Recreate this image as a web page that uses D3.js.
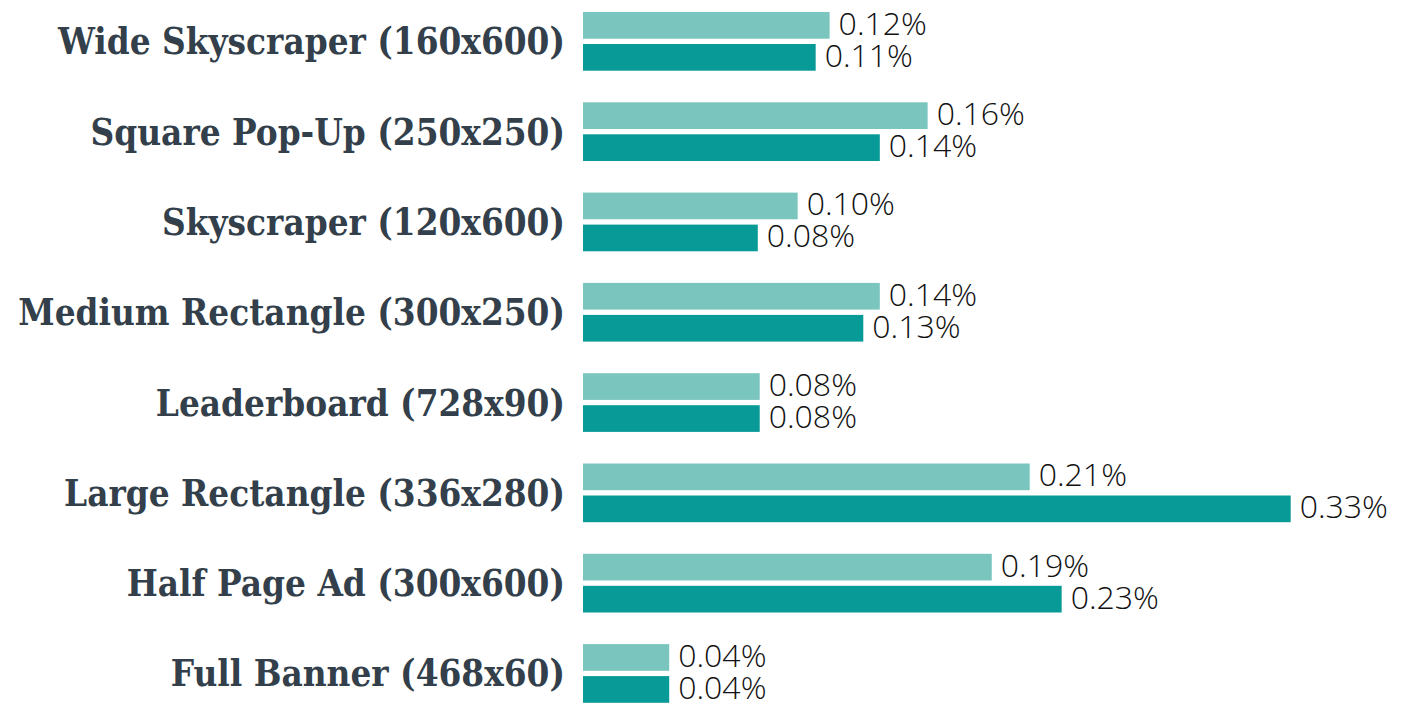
<!DOCTYPE html>
<html>
<head>
<meta charset="utf-8">
<script src="https://cdn.jsdelivr.net/npm/d3@7"></script>
<style>
  html, body { margin: 0; padding: 0; background: #fff; }
</style>
</head>
<body>
<div id="chart"></div>
<script>
// ad sizes, top to bottom
const categories = [
  "Wide Skyscraper (160x600)",
  "Square Pop-Up (250x250)",
  "Skyscraper (120x600)",
  "Medium Rectangle (300x250)",
  "Leaderboard (728x90)",
  "Large Rectangle (336x280)",
  "Half Page Ad (300x600)",
  "Full Banner (468x60)"
];

const seriesNames = ["light", "dark"];

// values in percent
const lightValues = [0.115, 0.1607, 0.1001, 0.1384, 0.0824, 0.2083, 0.1906, 0.0402];
const darkValues  = [0.1085, 0.1384, 0.0815, 0.1307, 0.0824, 0.33, 0.2232, 0.0402];

// labels shown next to the bars
const lightLabels = ["0.12%", "0.16%", "0.10%", "0.14%", "0.08%", "0.21%", "0.19%", "0.04%"];
const darkLabels  = ["0.11%", "0.14%", "0.08%", "0.13%", "0.08%", "0.33%", "0.23%", "0.04%"];

const colors = { light: "#7ac5be", dark: "#089a97" };

let width = 1405,
    height = 703;

let svg = d3.select("#chart")
  .append("svg")
  .attr("width", width)
  .attr("height", height);

let x = d3.scaleLinear()
  .domain([0, 0.33])
  .range([583, 1290.7]);

let y = d3.scaleBand()
  .domain(categories)
  .range([12, 702.8])
  .paddingInner(0.35)
  .paddingOuter(0);

let ySub = d3.scaleBand()
  .domain(seriesNames)
  .range([0, y.bandwidth()])
  .paddingInner(0.166);

let rows = categories.map((c, i) => ({
  cat: c,
  bars: [
    { key: "light", value: lightValues[i], label: lightLabels[i] },
    { key: "dark", value: darkValues[i], label: darkLabels[i] }
  ]
}));

let group = svg.append("g")
  .selectAll("g")
  .data(rows)
  .enter()
  .append("g")
  .attr("transform", d => `translate(0, ${y(d.cat)})`);

group.selectAll("rect")
  .data(d => d.bars)
  .enter()
  .append("rect")
  .attr("x", x(0))
  .attr("y", d => ySub(d.key))
  .attr("width", d => x(d.value) - x(0))
  .attr("height", ySub.bandwidth())
  .attr("fill", d => colors[d.key]);

group.selectAll("text.value")
  .data(d => d.bars)
  .enter()
  .append("text")
  .attr("class", "value")
  .attr("x", d => x(d.value) + 9)
  .attr("y", d => ySub(d.key) + ySub.bandwidth() / 2 + 9.5)
  .attr("font-family", "'Open Sans', sans-serif")
  .attr("font-weight", 300)
  .attr("font-size", 32)
  .attr("fill", "#111")
  .text(d => d.label);

// category names on the left
svg.append("g")
  .selectAll("text")
  .data(categories)
  .enter()
  .append("text")
  .attr("x", 565)
  .attr("y", d => y(d) + y.bandwidth() / 2 + 13)
  .attr("text-anchor", "end")
  .attr("font-family", "'DejaVu Serif Condensed', 'DejaVu Serif', serif")
  .attr("font-weight", "bold")
  .attr("font-size", 36.5)
  .attr("fill", "#333f4a")
  .text(d => d);
</script>
</body>
</html>
